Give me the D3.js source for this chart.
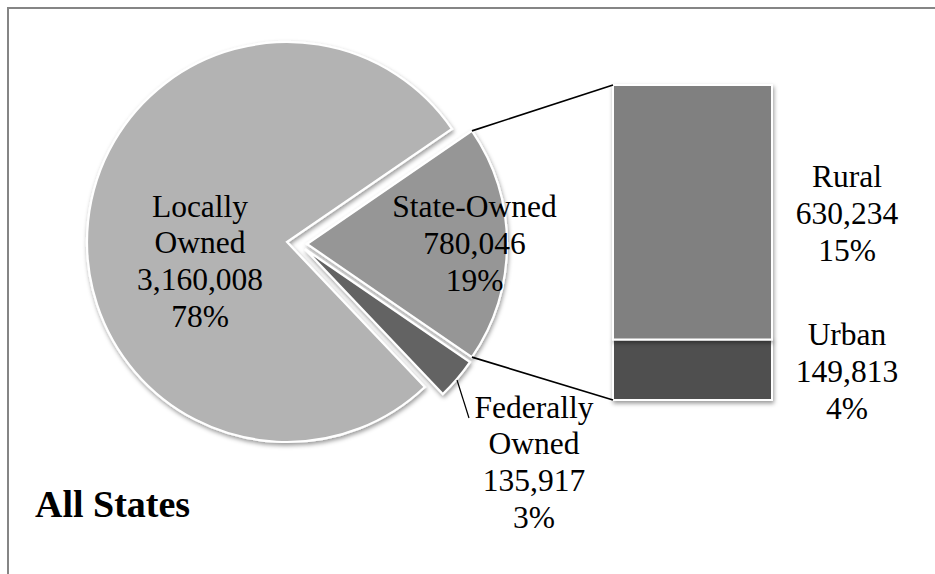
<!DOCTYPE html>
<html>
<head>
<meta charset="utf-8">
<script src="https://cdn.jsdelivr.net/npm/d3@7"></script>
<style>
  html, body { margin: 0; padding: 0; background: #fff; }
  svg { display: block; }
  text { font-family: "Liberation Serif", "Times New Roman", serif; fill: #000; }
</style>
</head>
<body>
<svg id="chart" width="935" height="574"></svg>
<script>
// Bridge ownership, all states
const categories = ["Locally Owned", "State-Owned", "Federally Owned"];
const bridgeCounts = [3160008, 780046, 135917];

// Breakdown of the state-owned slice
const stateParts = ["Rural", "Urban"];
const stateCounts = [630234, 149813];

const chartTitle = "All States";

// ---- layout & style ----
const W = 935, H = 574;
const pieCenter = [287, 242];
const pieRadius = 200;
const sliceColors = ["#b3b3b3", "#969696", "#636363"];
const partColors = ["#808080", "#505050"];
// explosion offsets (px) for each slice
const explode = [[0, 0], [20, 2], [18, 7]];
const bar = { x: 613, width: 159, top: 85, bottom: 400 };
const fontSize = 31.5, lineGap = 36.8;

const svg = d3.select("#chart");
const total = d3.sum(bridgeCounts);
const fmtNum = d3.format(",");
const fmtPct = d3.format(".0%");

// drop shadow used by pie slices and bar segments
const defs = svg.append("defs");
const f = defs.append("filter").attr("id", "shadow")
  .attr("x", "-10%").attr("y", "-10%").attr("width", "130%").attr("height", "130%");
f.append("feDropShadow").attr("dx", 1).attr("dy", 2.5).attr("stdDeviation", 2)
  .attr("flood-color", "#000").attr("flood-opacity", 0.4);

// frame
svg.append("rect")
  .attr("x", 8).attr("y", 8).attr("width", W + 10).attr("height", H + 10)
  .attr("fill", "none").attr("stroke", "#858585").attr("stroke-width", 2);

// rotate so the state-owned slice is centred on the right-hand side
const angleOf = v => v / total * 2 * Math.PI;
const startAngle = Math.PI / 2 + angleOf(bridgeCounts[1]) / 2 + angleOf(bridgeCounts[2]);
const pie = d3.pie().sort(null).value(d => d)
  .startAngle(startAngle).endAngle(startAngle + 2 * Math.PI);
const arcs = pie(bridgeCounts);
const arc = d3.arc().innerRadius(0).outerRadius(pieRadius);

const pieG = svg.append("g").attr("transform", `translate(${pieCenter})`);
pieG.selectAll("path.slice")
  .data(arcs)
  .join("path")
  .attr("class", "slice")
  .attr("transform", (d, i) => `translate(${explode[i]})`)
  .attr("d", arc)
  .attr("fill", (d, i) => sliceColors[i])
  .attr("stroke", "#fff")
  .attr("stroke-width", 2.2)
  .attr("stroke-linejoin", "miter")
  .attr("filter", "url(#shadow)");

// bar of the state-owned breakdown (rural on top of urban)
const stateTotal = d3.sum(stateCounts);
const y = d3.scaleLinear().domain([0, stateTotal]).range([bar.bottom, bar.top]);
const stackData = [];
let acc = 0;
for (let i = stateCounts.length - 1; i >= 0; i--) {
  stackData.push({ i, y0: acc, y1: acc + stateCounts[i] });
  acc += stateCounts[i];
}
svg.append("g").selectAll("rect")
  .data(stackData)
  .join("rect")
  .attr("x", bar.x)
  .attr("width", bar.width)
  .attr("y", d => y(d.y1))
  .attr("height", d => y(d.y0) - y(d.y1))
  .attr("fill", d => partColors[d.i])
  .attr("stroke", "#fff")
  .attr("stroke-width", 2)
  .attr("filter", "url(#shadow)");

// connector lines from the state slice's outer corners to the bar
const st = arcs[1];
const corner = a => [
  pieCenter[0] + explode[1][0] + pieRadius * Math.sin(a),
  pieCenter[1] + explode[1][1] - pieRadius * Math.cos(a)
];
const cTop = corner(st.startAngle), cBot = corner(st.endAngle);
svg.append("line")
  .attr("x1", cTop[0]).attr("y1", cTop[1])
  .attr("x2", bar.x).attr("y2", y(stateTotal))
  .attr("stroke", "#000").attr("stroke-width", 1.6);
svg.append("line")
  .attr("x1", cBot[0]).attr("y1", cBot[1])
  .attr("x2", bar.x).attr("y2", y(0))
  .attr("stroke", "#000").attr("stroke-width", 1.6);

// leader line for the federally owned label
svg.append("line")
  .attr("x1", 457).attr("y1", 380).attr("x2", 469).attr("y2", 418)
  .attr("stroke", "#000").attr("stroke-width", 1.2);

// multi-line data labels
function drawLabel(lines, x, y0) {
  const t = svg.append("text")
    .attr("text-anchor", "middle")
    .attr("font-size", fontSize);
  lines.forEach((s, k) => {
    t.append("tspan").attr("x", x).attr("y", y0 + k * lineGap).text(s);
  });
}
const nameLines = s => s.includes(" ") ? s.split(" ") : [s];
const sliceLabelPos = [[200, 216.5], [474.5, 217], [534, 417.5]];
categories.forEach((c, i) => {
  drawLabel([...nameLines(c), fmtNum(bridgeCounts[i]), fmtPct(bridgeCounts[i] / total)],
    sliceLabelPos[i][0], sliceLabelPos[i][1]);
});
const partLabelPos = [[847, 187], [847, 345]];
stateParts.forEach((p, i) => {
  drawLabel([p, fmtNum(stateCounts[i]), fmtPct(stateCounts[i] / total)],
    partLabelPos[i][0], partLabelPos[i][1]);
});

// title
svg.append("text")
  .attr("x", 35).attr("y", 517)
  .attr("font-size", 38)
  .attr("font-weight", "bold")
  .text(chartTitle);
</script>
</body>
</html>
